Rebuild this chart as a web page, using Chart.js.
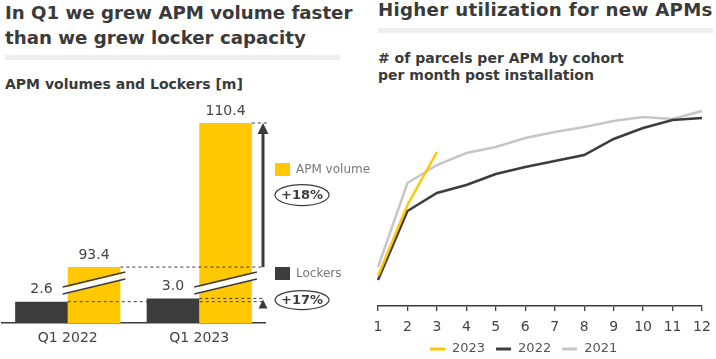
<!DOCTYPE html>
<html>
<head>
<meta charset="utf-8">
<script src="https://cdn.jsdelivr.net/npm/chart.js@4"></script>
<style>
  body { margin: 0; width: 716px; height: 359px; position: relative; overflow: hidden; background: #fff; font-family: "DejaVu Sans", sans-serif; color: #3a3a3a; }
  .title { position: absolute; font-weight: bold; font-size: 18.2px; line-height: 25px; white-space: nowrap; }
  .sub { position: absolute; font-weight: bold; font-size: 14px; line-height: 17px; white-space: nowrap; }
  .rule { position: absolute; height: 5px; width: 335px; background: #eeeeee; }
  canvas { position: absolute; }
</style>
</head>
<body>
<div class="title" style="left:5px; top:0px;">In Q1 we grew APM volume faster<br>than we grew locker capacity</div>
<div class="rule" style="left:5px; top:55px;"></div>
<div class="sub" style="left:5px; top:76px;">APM volumes and Lockers [m]</div>

<div class="title" style="left:378px; top:-3px; letter-spacing:0.3px;">Higher utilization for new APMs</div>
<div class="rule" style="left:378px; top:28px;"></div>
<div class="sub" style="left:378px; top:50px;"># of parcels per APM by cohort<br>per month post installation</div>

<canvas id="volumes" width="370" height="269" style="left:0; top:90px;"></canvas>
<canvas id="cohorts" width="344" height="269" style="left:372px; top:90px;"></canvas>

<script>
const quarters = ['Q1 2022', 'Q1 2023'];
const lockers = [2.6, 3.0];
const apmVolume = [93.4, 110.4];
const apmGrowth = '+18%';
const lockerGrowth = '+17%';

const months = ['1', '2', '3', '4', '5', '6', '7', '8', '9', '10', '11', '12'];
const cohort2023 = [30, 101, 154];
const cohort2022 = [26, 95, 113, 121, 132, 139, 145, 151, 167, 178, 186, 188];
const cohort2021 = [39, 123, 141, 153, 159, 168, 174, 179, 185, 189, 187, 195];

const YELLOW = '#ffc800';
const DARK = '#3c3c3c';
const GRAY = '#c6c6c6';
const FONT = '"DejaVu Sans", sans-serif';

function dashed(ctx, x1, x2, y) {
    ctx.save();
    ctx.setLineDash([3, 3]);
    ctx.strokeStyle = DARK;
    ctx.lineWidth = 1;
    ctx.beginPath();
    ctx.moveTo(x1, y);
    ctx.lineTo(x2, y);
    ctx.stroke();
    ctx.restore();
}

function triangleUp(ctx, x, tip, h, hw) {
    ctx.beginPath();
    ctx.moveTo(x, tip);
    ctx.lineTo(x - hw, tip + h);
    ctx.lineTo(x + hw, tip + h);
    ctx.closePath();
    ctx.fill();
}

function badge(ctx, text, cx, cy, ry) {
    ctx.save();
    ctx.strokeStyle = DARK;
    ctx.lineWidth = 1.2;
    ctx.beginPath();
    ctx.ellipse(cx, cy, 27, ry, 0, 0, Math.PI * 2);
    ctx.stroke();
    ctx.fillStyle = DARK;
    ctx.font = 'bold 13px ' + FONT;
    ctx.textAlign = 'center';
    ctx.textBaseline = 'middle';
    ctx.fillText(text, cx, cy + 1);
    ctx.restore();
}

const volumeDecor = {
    id: 'volumeDecor',
    afterDatasetsDraw(chart) {
        const {ctx, chartArea: a} = chart;
        const yL = chart.scales.yLockers;
        const yA = chart.scales.yApm;
        const lockBars = chart.getDatasetMeta(0).data;
        const apmBars = chart.getDatasetMeta(1).data;
        const bottom = a.bottom;

        // axis break marks on the APM bars
        apmBars.forEach(bar => {
            const xl = bar.x - bar.width / 2 - 5;
            const xr = bar.x + bar.width / 2 + 5;
            ctx.save();
            ctx.fillStyle = '#fff';
            ctx.beginPath();
            ctx.moveTo(xl + 5, bottom - 36);
            ctx.lineTo(xr - 5, bottom - 49);
            ctx.lineTo(xr - 5, bottom - 43);
            ctx.lineTo(xl + 5, bottom - 30);
            ctx.closePath();
            ctx.fill();
            ctx.strokeStyle = DARK;
            ctx.lineWidth = 1.6;
            ctx.beginPath();
            ctx.moveTo(xl, bottom - 36);
            ctx.lineTo(xr, bottom - 51);
            ctx.moveTo(xl, bottom - 29);
            ctx.lineTo(xr, bottom - 44);
            ctx.stroke();
            ctx.restore();
        });

        // value labels
        ctx.save();
        ctx.fillStyle = '#444';
        ctx.font = '14px ' + FONT;
        ctx.textAlign = 'center';
        ctx.textBaseline = 'bottom';
        lockBars.forEach((bar, i) => ctx.fillText(lockers[i].toFixed(1), bar.x, bar.y - 5));
        apmBars.forEach((bar, i) => ctx.fillText(apmVolume[i].toFixed(1), bar.x, bar.y - 5));
        ctx.restore();

        const arrowX = a.right - 2;
        const yApm0 = yA.getPixelForValue(apmVolume[0]);
        const yApm1 = yA.getPixelForValue(apmVolume[1]);
        const yLock0 = yL.getPixelForValue(lockers[0]);
        const yLock1 = yL.getPixelForValue(lockers[1]);

        dashed(ctx, apmBars[0].x + apmBars[0].width / 2, arrowX, yApm0);
        dashed(ctx, apmBars[1].x + apmBars[1].width / 2, arrowX + 6, yApm1);
        dashed(ctx, lockBars[0].x + lockBars[0].width / 2, arrowX, yLock0);
        dashed(ctx, lockBars[1].x + lockBars[1].width / 2, arrowX, yLock1);

        ctx.save();
        ctx.strokeStyle = DARK;
        ctx.fillStyle = DARK;
        ctx.lineWidth = 3;
        ctx.beginPath();
        ctx.moveTo(arrowX, yApm0);
        ctx.lineTo(arrowX, yApm1 + 8);
        ctx.stroke();
        triangleUp(ctx, arrowX, yApm1, 11, 5.5);
        triangleUp(ctx, arrowX, yLock1 + 1, 9, 4.5);
        ctx.restore();

        badge(ctx, apmGrowth, a.right + 37, (yApm0 + yApm1) / 2, 10.5);
        badge(ctx, lockerGrowth, a.right + 37, (yLock0 + yLock1) / 2, 9.5);

        // legend
        ctx.save();
        ctx.font = '12px ' + FONT;
        ctx.textBaseline = 'middle';
        const items = [
            {label: chart.data.datasets[1].label, color: YELLOW, y: a.top + 47},
            {label: chart.data.datasets[0].label, color: DARK, y: a.top + 151}
        ];
        items.forEach(it => {
            ctx.fillStyle = it.color;
            ctx.fillRect(a.right + 10, it.y - 7, 15, 13);
            ctx.fillStyle = '#777';
            ctx.fillText(it.label, a.right + 31, it.y);
        });
        ctx.restore();
    }
};

const cohortLegend = {
    id: 'cohortLegend',
    afterDraw(chart) {
        const {ctx, chartArea: a} = chart;
        ctx.save();
        ctx.font = '13px ' + FONT;
        ctx.textBaseline = 'middle';
        let x = a.left + 52;
        const y = 259;
        chart.data.datasets.forEach(ds => {
            ctx.fillStyle = ds.borderColor;
            ctx.fillRect(x, y - 1.5, 15, 3);
            ctx.fillStyle = '#555';
            ctx.fillText(ds.label, x + 22, y);
            x += 22 + ctx.measureText(ds.label).width + 11;
        });
        ctx.restore();
    }
};

new Chart(document.getElementById('volumes'), {
    type: 'bar',
    data: {
        labels: quarters,
        datasets: [
            {label: 'Lockers', data: lockers, backgroundColor: DARK, yAxisID: 'yLockers', categoryPercentage: 0.8, barPercentage: 1},
            {label: 'APM volume', data: apmVolume, backgroundColor: YELLOW, yAxisID: 'yApm', categoryPercentage: 0.8, barPercentage: 1}
        ]
    },
    options: {
        responsive: false,
        animation: false,
        layout: {padding: {left: 2, right: 105, top: 33, bottom: 0}},
        plugins: {legend: {display: false}, tooltip: {enabled: false}},
        scales: {
            x: {
                grid: {display: false, drawTicks: false},
                border: {display: true, color: DARK, width: 1.5},
                ticks: {color: '#444', font: {family: FONT, size: 14}, padding: 7},
                afterFit(scale) { scale.height = 36; }
            },
            yLockers: {display: false, min: 0, max: 24.4},
            yApm: {display: false, min: 86.8, max: 110.4}
        }
    },
    plugins: [volumeDecor]
});

new Chart(document.getElementById('cohorts'), {
    type: 'line',
    data: {
        labels: months,
        datasets: [
            {label: '2023', data: cohort2023, borderColor: YELLOW, backgroundColor: YELLOW},
            {label: '2022', data: cohort2022, borderColor: DARK, backgroundColor: DARK},
            {label: '2021', data: cohort2021, borderColor: GRAY, backgroundColor: GRAY}
        ]
    },
    options: {
        responsive: false,
        animation: false,
        layout: {padding: {left: 6, right: 14, top: 16, bottom: 0}},
        elements: {point: {radius: 0}, line: {borderWidth: 2.5, tension: 0}},
        plugins: {legend: {display: false}, tooltip: {enabled: false}},
        scales: {
            x: {
                grid: {drawOnChartArea: false, color: DARK, lineWidth: 1.3, tickLength: 5},
                border: {display: true, color: DARK, width: 1.5},
                ticks: {color: '#444', font: {family: FONT, size: 14}, padding: 8, maxRotation: 0, autoSkip: false},
                afterFit(scale) {
                    scale.height = 53;
                    scale.paddingLeft = 0;
                    scale.paddingRight = 0;
                }
            },
            y: {display: false, min: 0, max: 200}
        }
    },
    plugins: [cohortLegend]
});
</script>
</body>
</html>
